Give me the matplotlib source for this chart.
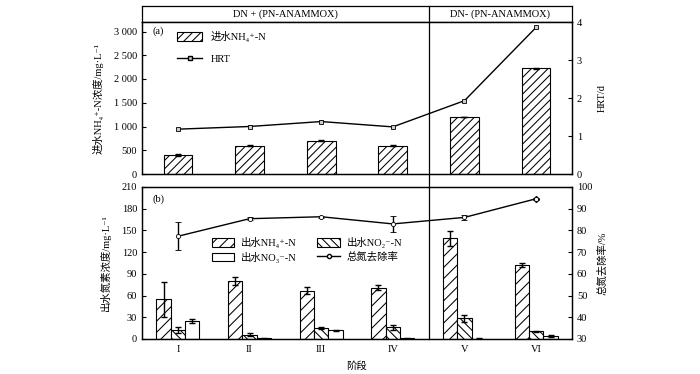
import matplotlib
matplotlib.use('Agg')
import matplotlib.pyplot as plt
import numpy as np
from matplotlib.lines import Line2D
from matplotlib.patches import Patch
from matplotlib.ticker import FuncFormatter

plt.rcParams['font.family'] = ['Liberation Serif', 'Noto Sans CJK SC', 'DejaVu Serif']
plt.rcParams['hatch.linewidth'] = 0.75
plt.rcParams['axes.linewidth'] = 0.9

# ---------------- data ----------------
stages = ['I', 'II', 'III', 'IV', 'V', 'VI']
phase_labels = ['DN + (PN-ANAMMOX)', 'DN- (PN-ANAMMOX)']

inf_nh4 = [400, 600, 700, 600, 1200, 2230]
inf_nh4_err = [20, 8, 8, 8, 10, 12]
hrt = [1.18, 1.25, 1.38, 1.24, 1.93, 3.86]
hrt_err = [0.03, 0.03, 0.03, 0.03, 0.03, 0.03]

eff_nh4 = [55, 80, 67, 71, 139, 102]
eff_nh4_err = [24, 5, 5, 3, 10, 3]
eff_no2 = [12, 6, 15, 16, 28.5, 10.5]
eff_no2_err = [4, 2, 1, 4, 5, 1]
eff_no3 = [25, 0.8, 12, 1, 0.5, 4]
eff_no3_err = [3, 0.5, 0.3, 0.5, 0.3, 1]
tn_removal = [77.3, 85.4, 86.3, 83.0, 86.0, 94.6]
tn_removal_err = [6.5, 0.6, 0.4, 3.7, 1.0, 0.4]

FS = 7.5
x = np.arange(1, len(stages) + 1)

fig = plt.figure(figsize=(7, 3.74), dpi=100)
L, W = 142 / 700, 430 / 700
axH = fig.add_axes([L, 1 - 22 / 374, W, 16 / 374])
axA = fig.add_axes([L, 1 - 174 / 374, W, 152 / 374])
axB = fig.add_axes([L, 1 - 339 / 374, W, 152 / 374])

# header
axH.set_xlim(0.5, 6.5)
axH.set_ylim(0, 1)
axH.set_xticks([])
axH.set_yticks([])
axH.text(2.5, 0.5, phase_labels[0], ha='center', va='center', fontsize=FS)
axH.text(5.5, 0.5, phase_labels[1], ha='center', va='center', fontsize=FS)

# ---------------- panel a ----------------
axA.bar(x, inf_nh4, width=0.4, color='white', edgecolor='black', hatch='////',
        linewidth=0.8, yerr=inf_nh4_err, error_kw=dict(ecolor='black', elinewidth=1, capsize=2))
axA.set_xlim(0.5, 6.5)
axA.set_ylim(0, 3200)
axA.set_yticks(np.arange(0, 3001, 500))
axA.yaxis.set_major_formatter(FuncFormatter(lambda v, p: f'{int(v):,}'.replace(',', ' ')))
axA.set_xticks([])
axA.tick_params(axis='y', direction='in', length=3, labelsize=FS)
axA.set_ylabel('进水NH₄⁺-N浓度/mg·L⁻¹', fontsize=FS)
axA.yaxis.set_label_coords(-0.09, 0.5)
axA.text(0.025, 0.92, '(a)', transform=axA.transAxes, fontsize=FS)

axA2 = axA.twinx()
axA2.errorbar(x, hrt, yerr=hrt_err, color='black', lw=1, marker='s', ms=3,
              mfc='#cccccc', mec='black', mew=0.6, capsize=1.5, elinewidth=0.8)
axA2.set_ylim(0, 4)
axA2.set_yticks(np.arange(0, 5, 1))
axA2.tick_params(axis='y', direction='in', length=3, labelsize=FS)
axA2.set_ylabel('HRT/d', fontsize=FS)
axA2.yaxis.set_label_coords(1.06, 0.5)

hA = [Patch(facecolor='white', edgecolor='black', hatch='////', linewidth=0.8),
      Line2D([], [], color='black', lw=1, marker='s', ms=3, mfc='#cccccc', mec='black')]
axA.legend(hA, ['进水NH₄⁺-N', 'HRT'], loc='upper left', bbox_to_anchor=(0.06, 1.0),
           frameon=False, fontsize=FS, handlelength=2.4, handleheight=1.0, labelspacing=1.1)

# ---------------- panel b ----------------
bw = 0.2
ek = dict(ecolor='black', elinewidth=1, capsize=2)
axB.bar(x - bw, eff_nh4, width=bw, color='white', edgecolor='black', hatch='///',
        linewidth=0.8, yerr=eff_nh4_err, error_kw=ek)
axB.bar(x, eff_no2, width=bw, color='white', edgecolor='black', hatch='\\\\\\\\',
        linewidth=0.8, yerr=eff_no2_err, error_kw=ek)
axB.bar(x + bw, eff_no3, width=bw, color='white', edgecolor='black',
        linewidth=0.8, yerr=eff_no3_err, error_kw=ek)
axB.set_xlim(0.5, 6.5)
axB.set_ylim(0, 210)
axB.set_yticks(np.arange(0, 211, 30))
axB.set_xticks(x)
axB.set_xticklabels(stages, fontsize=FS)
axB.tick_params(axis='x', length=0, pad=4)
axB.tick_params(axis='y', direction='in', length=3, labelsize=FS)
axB.set_ylabel('出水氮素浓度/mg·L⁻¹', fontsize=FS)
axB.yaxis.set_label_coords(-0.072, 0.5)
axB.set_xlabel('阶段', fontsize=FS)
axB.xaxis.set_label_coords(0.5, -0.145)
axB.text(0.025, 0.9, '(b)', transform=axB.transAxes, fontsize=FS)

axB2 = axB.twinx()
axB2.errorbar(x, tn_removal, yerr=tn_removal_err, color='black', lw=1, marker='o', ms=3,
              mfc='white', mec='black', mew=0.6, capsize=2, elinewidth=1)
axB2.plot(x[-1:], tn_removal[-1:], marker='D', ms=3, color='black', lw=0)
axB2.set_ylim(30, 100)
axB2.set_yticks(np.arange(30, 101, 10))
axB2.tick_params(axis='y', direction='in', length=3, labelsize=FS)
axB2.set_ylabel('总氮去除率/%', fontsize=FS)
axB2.yaxis.set_label_coords(1.06, 0.5)

hB = [Patch(facecolor='white', edgecolor='black', hatch='///', linewidth=0.8),
      Patch(facecolor='white', edgecolor='black', linewidth=0.8),
      Patch(facecolor='white', edgecolor='black', hatch='\\\\\\\\', linewidth=0.8),
      Line2D([], [], color='black', lw=1, marker='o', ms=3, mfc='white', mec='black')]
lB = ['出水NH₄⁺-N', '出水NO₃⁻-N', '出水NO₂⁻-N', '总氮去除率']
axB.legend(hB, lB, loc='upper left', bbox_to_anchor=(0.14, 0.73), ncol=2,
           frameon=False, fontsize=FS, handlelength=2.2, handleheight=0.9,
           labelspacing=0.3, columnspacing=2.0, handletextpad=0.6)

# divider between phases
xd = L + W * (4.5 - 0.5) / 6
fig.add_artist(Line2D([xd, xd], [1 - 339 / 374, 1 - 6 / 374], transform=fig.transFigure,
                      color='black', lw=0.9))

fig.savefig('out.png', dpi=100)
